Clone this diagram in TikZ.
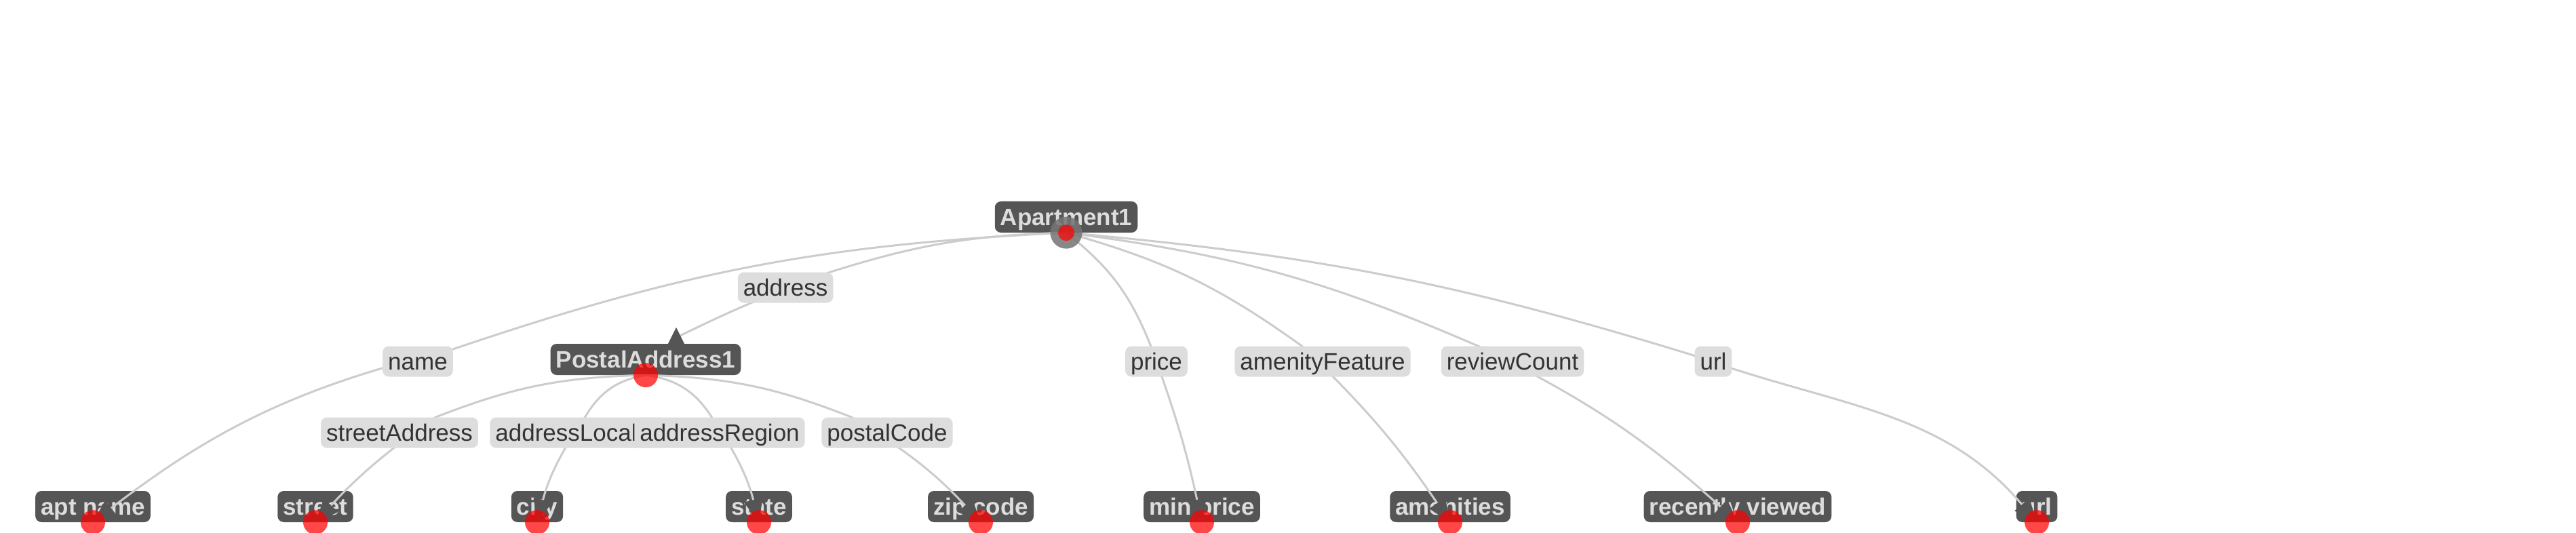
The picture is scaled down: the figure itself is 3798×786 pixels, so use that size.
\documentclass[tikz,border=0pt]{standalone}
\usepackage{fontspec}
\setmainfont{Liberation Sans}
\usetikzlibrary{arrows.meta,calc}

\definecolor{nodegray}{HTML}{555555}
\definecolor{lblgray}{HTML}{DDDDDD}
\definecolor{linkgray}{HTML}{CCCCCC}
\definecolor{txtdark}{HTML}{333333}
\definecolor{rootgray}{HTML}{757575}

\pgfdeclarelayer{links}
\pgfdeclarelayer{front}
\pgfsetlayers{main,links,front}

\begin{document}
\begin{tikzpicture}[
  x=1pt, y=-1pt,
  font=\fontsize{35}{40}\selectfont,
  res/.style={rectangle, rounded corners=9pt,
    fill=nodegray, text=lblgray, font=\fontsize{35}{40}\selectfont\bfseries,
    inner xsep=8pt, inner ysep=6.5pt, text height=29pt, text depth=4pt},
  prop/.style={rectangle, rounded corners=9pt,
    fill=lblgray, text=txtdark,
    inner xsep=8pt, inner ysep=6pt, text height=29pt, text depth=4pt},
  link/.style={draw=linkgray, line width=3pt},
  endtip/.style={-{Triangle[length=34pt, width=28pt, color=nodegray]}},
  reddot/.style={circle, fill=red, fill opacity=.72, inner sep=0pt,
    minimum size=36pt}
]
\useasboundingbox (0,0) rectangle (3798,786);

% ── Resources ─────────────────────────────────────────────────────────────
\node[res] (apt) at (1572,320) {Apartment1};
\node[res] (pa)  at (952,530)  {PostalAddress1};

\node[res] (aptname) at (137,747)  {apt name};
\node[res] (street)  at (465,747)  {street};
\node[res] (city)    at (792,747)  {city};
\node[res] (state)   at (1119,747) {state};
\node[res] (zip)     at (1446,747) {zip code};
\node[res] (minpr)   at (1772,747) {min price};
\node[res] (amen)    at (2138,747) {amenities};
\node[res] (recent)  at (2562,747) {recently viewed};
\node[res] (urlval)  at (3003,747) {url};

% ── Property labels ───────────────────────────────────────────────────────
\begin{pgfonlayer}{front}
\node[prop] (pname)    at (616,533)  {name};
\node[prop] (paddr)    at (1158,424) {address};
\node[prop] (pprice)   at (1705,533) {price};
\node[prop] (pamen)    at (1950,533) {amenityFeature};
\node[prop] (previews) at (2230,533) {reviewCount};
\node[prop] (purl)     at (2526,533) {url};
\node[prop] (pstreet)  at (589,638)  {streetAddress};
\node[prop] (plocal)   at (852,638)  {addressLocality};
\node[prop] (pregion)  at (1061,638) {addressRegion};
\node[prop] (ppostal)  at (1308,638) {postalCode};
\end{pgfonlayer}

\coordinate (pa-mark) at ($(pa.north)+(47,-10)$);

% ── Links ─────────────────────────────────────────────────────────────────
\begin{pgfonlayer}{links}
\draw[link, endtip] (apt.south) to[bend right=8] (pname)
  to[bend right=12] (aptname.south);
\draw[link] (apt.south) to[bend right=8] (paddr)
  to[bend right=3] (pa-mark);
\draw[link, endtip] (apt.south) to[bend left=15] (pprice)
  to[bend left=4] (minpr.south);
\draw[link, endtip] (apt.south) to[bend left=10] (pamen)
  to[bend left=6] (amen.south);
\draw[link, endtip] (apt.south) to[bend left=8] (previews)
  to[bend left=8] (recent.south);
\draw[link, endtip] (apt.south) to[bend left=6] (purl)
  to[out=-20, in=130] (urlval.south);

\draw[link, endtip] (pa.south) to[bend right=10] (pstreet)
  to[bend right=6] (street.south);
\draw[link, endtip] (pa.south) to[bend right=25] (plocal)
  to[bend right=10] (city.south);
\draw[link, endtip] (pa.south) to[bend left=25] (pregion)
  to[bend left=10] (state.south);
\draw[link, endtip] (pa.south) to[bend left=10] (ppostal)
  to[bend left=8] (zip.south);
\end{pgfonlayer}

% ── Markers ───────────────────────────────────────────────────────────────
\begin{pgfonlayer}{front}
\fill[nodegray] ($(pa.north)+(33,0)$) -- ($(pa.north)+(57,0)$)
  -- ($(pa.north)+(45,-24)$) -- cycle;
\node[circle, fill=rootgray, fill opacity=.86, inner sep=0pt,
  minimum size=47pt] (apt-ring) at (apt.south) {};
\node[reddot, minimum size=24pt] (apt-dot) at (apt.south) {};
\node[reddot] (pa-dot) at (pa.south) {};
\foreach \v in {aptname,street,city,state,zip,minpr,amen,recent,urlval}
  \node[reddot] (\v-dot) at (\v.south) {};
\end{pgfonlayer}
\end{tikzpicture}
\end{document}
